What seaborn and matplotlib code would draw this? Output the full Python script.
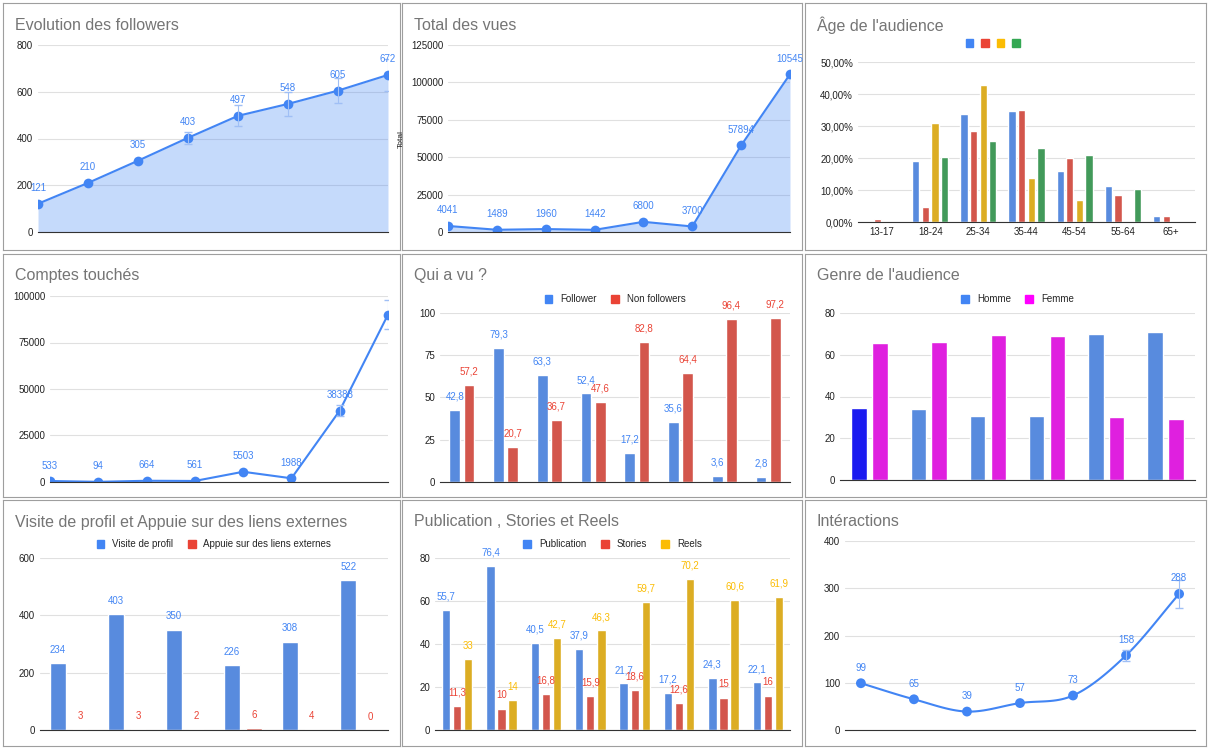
import numpy as np
import pandas as pd
import matplotlib.pyplot as plt
import seaborn as sns

# Data
followers = [121, 210, 305, 403, 497, 548, 605, 672]
vues = [4041, 1489, 1960, 1442, 6800, 3700, 57894, 105454]
vues_labels = ['4041', '1489', '1960', '1442', '6800', '3700', '57894', '10545']
comptes = [533, 94, 664, 561, 5503, 1988, 38388, 90000]
comptes_labels = ['533', '94', '664', '561', '5503', '1988', '38388', '']
interactions = [99, 65, 39, 57, 73, 158, 288]

age_groups = ['13-17', '18-24', '25-34', '35-44', '45-54', '55-64', '65+']
age_blue = [0, 19.0, 33.8, 34.8, 16.0, 11.2, 1.8]
age_red = [0.8, 4.8, 28.5, 35.0, 20.0, 8.5, 2.0]
age_yellow = [0, 30.8, 42.7, 13.7, 6.8, 0, 0]
age_green = [0, 20.2, 25.3, 23.0, 20.8, 10.3, 0]

vu_follower = [42.8, 79.3, 63.3, 52.4, 17.2, 35.6, 3.6, 2.8]
vu_non = [57.2, 20.7, 36.7, 47.6, 82.8, 64.4, 96.4, 97.2]

homme = [34.5, 34, 30.5, 30.8, 70, 71]
femme = [65.5, 66, 69.5, 69.2, 30, 29]

visites = [234, 403, 350, 226, 308, 522]
liens = [3, 3, 2, 6, 4, 0]

publication = [55.7, 76.4, 40.5, 37.9, 21.7, 17.2, 24.3, 22.1]
stories = [11.3, 10, 16.8, 15.9, 18.6, 12.6, 15, 16]
reels = [33, 14, 42.7, 46.3, 59.7, 70.2, 60.6, 61.9]

BLUE = '#4285f4'
RED = '#ea4335'
YELLOW = '#fbbc04'
GREEN = '#34a853'
MAGENTA = '#ff00ff'

sns.set_style('white')
plt.rcParams['font.family'] = ['Arial', 'Liberation Sans', 'DejaVu Sans']

fig = plt.figure(figsize=(12.08, 7.49), dpi=100)
W, H = 1208, 749


def fmt(v):
    s = ('%g' % v).replace('.', ',')
    return s


def panel(x0, y0, x1, y1, title):
    # border box
    bg = fig.add_axes([x0 / W, 1 - y1 / H, (x1 - x0) / W, (y1 - y0) / H])
    bg.set_xticks([]); bg.set_yticks([])
    for s in bg.spines.values():
        s.set_color('#9e9e9e')
    bg.text(12 / (x1 - x0), 1 - 22 / (y1 - y0), title, transform=bg.transAxes,
            fontsize=11.5, color='#757575', va='center')
    return bg


def inner(x0, y0, x1, y1):
    ax = fig.add_axes([x0 / W, 1 - y1 / H, (x1 - x0) / W, (y1 - y0) / H])
    ax.set_facecolor('none')
    sns.despine(ax=ax, left=True, top=True, right=True)
    ax.spines['bottom'].set_color('#333333')
    ax.grid(axis='y', color='#e0e0e0', lw=0.8)
    ax.set_axisbelow(True)
    ax.tick_params(axis='both', labelsize=7, length=0, colors='#222222')
    return ax


def line_chart(ax, vals, ymax, step, labels=None, fill=True, errs=None):
    x = np.arange(len(vals))
    df = pd.DataFrame({'x': x, 'y': vals})
    sns.lineplot(data=df, x='x', y='y', ax=ax, color=BLUE, lw=1.5, marker='o',
                 markersize=7, markeredgewidth=0)
    if fill:
        ax.fill_between(x, vals, color=BLUE, alpha=0.3, lw=0)
    if errs:
        for i, e in errs.items():
            ax.errorbar(i, vals[i], yerr=e, color='#a0bff5', capsize=3, lw=0.8)
    labels = labels or [str(v) for v in vals]
    for i, (v, l) in enumerate(zip(vals, labels)):
        ax.annotate(l, (i, v), xytext=(0, 9), textcoords='offset points',
                    ha='center', fontsize=7, color=BLUE)
    ax.set_xlim(0, len(vals) - 1)
    ax.set_ylim(0, ymax)
    ax.set_yticks(np.arange(0, ymax + 1, step))
    ax.set_xticks([])
    ax.set_xlabel(''); ax.set_ylabel('')


def bar_chart(ax, cats, series, names, colors, ymax, step, labels=True, legend=True,
              lbl_colors=None, width=0.75):
    rows = []
    for n, vals in zip(names, series):
        for c, v in zip(cats, vals):
            rows.append({'cat': c, 'serie': n, 'val': v})
    df = pd.DataFrame(rows)
    sns.barplot(data=df, x='cat', y='val', hue='serie', palette=colors, ax=ax,
                width=width, gap=0.25, legend=False)
    if labels:
        for cont, col in zip(ax.containers, lbl_colors or colors):
            ax.bar_label(cont, labels=[fmt(v) for v in cont.datavalues], padding=6,
                         fontsize=7, color=col)
    ax.set_ylim(0, ymax)
    ax.set_yticks(np.arange(0, ymax + 1, step))
    ax.set_xlabel(''); ax.set_ylabel('')
    if legend:
        handles = [plt.Rectangle((0, 0), 1, 1, color=c) for c in colors]
        ax.legend(handles, names, loc='lower center', bbox_to_anchor=(0.5, 1.0),
                  ncol=len(names), frameon=False, fontsize=7, handlelength=0.8,
                  handleheight=0.8, columnspacing=1.5)


# Row 1
panel(3, 3, 400, 250, 'Evolution des followers')
ax = inner(38, 45, 388, 232)
line_chart(ax, followers, 800, 200, errs={3: 25, 4: 45, 5: 50, 6: 55, 7: 70})

panel(402, 3, 802, 250, 'Total des vues')
ax = inner(448, 45, 790, 232)
line_chart(ax, vues, 125000, 25000, labels=vues_labels)
ax.set_ylabel('Total', fontsize=6)

panel(805, 3, 1206, 250, "Âge de l'audience")
ax = inner(858, 62, 1195, 222)
bar_chart(ax, age_groups, [age_blue, age_red, age_yellow, age_green],
          ['a', 'b', 'c', 'd'], [BLUE, RED, YELLOW, GREEN], 50, 10,
          labels=False, legend=False, width=0.8)
ax.set_yticks(np.arange(0, 51, 10))
ax.set_yticklabels(['%d,00%%' % v for v in range(0, 51, 10)])
handles = [plt.Rectangle((0, 0), 1, 1, color=c) for c in [BLUE, RED, YELLOW, GREEN]]
ax.legend(handles, ['', '', '', ''], loc='lower center', bbox_to_anchor=(0.4, 1.03),
          ncol=4, frameon=False, fontsize=7, handlelength=0.8, handleheight=0.8,
          columnspacing=0.8, handletextpad=0)

# Row 2
panel(3, 254, 400, 497, 'Comptes touchés')
ax = inner(50, 296, 388, 482)
line_chart(ax, comptes, 100000, 25000, labels=comptes_labels, fill=False,
           errs={6: 3000, 7: 8000})

panel(402, 254, 802, 497, 'Qui a vu ?')
ax = inner(440, 313, 790, 482)
bar_chart(ax, list(range(8)), [vu_follower, vu_non], ['Follower', 'Non followers'],
          [BLUE, RED], 100, 25, width=0.65)
ax.set_xticks([])

panel(805, 254, 1206, 497, "Genre de l'audience")
ax = inner(840, 313, 1195, 480)
bar_chart(ax, list(range(6)), [homme, femme], ['Homme', 'Femme'], [BLUE, MAGENTA],
          80, 20, labels=False, width=0.7)
ax.containers[0][0].set_facecolor('#1a1af0')
ax.set_xticks([])

# Row 3
panel(3, 500, 400, 746, 'Visite de profil et Appuie sur des liens externes')
ax = inner(40, 558, 388, 730)
bar_chart(ax, list(range(6)), [visites, liens], ['Visite de profil', 'Appuie sur des liens externes'],
          [BLUE, RED], 600, 200, width=0.75)
ax.set_ylim(0, 600)
ax.set_xticks([])

panel(402, 500, 802, 746, 'Publication , Stories et Reels')
ax = inner(435, 558, 790, 730)
bar_chart(ax, list(range(8)), [publication, stories, reels], ['Publication', 'Stories', 'Reels'],
          [BLUE, RED, YELLOW], 80, 20, width=0.75)
ax.set_xticks([])

panel(805, 500, 1206, 746, 'Intéractions')
ax = inner(845, 541, 1195, 730)
x = np.arange(len(interactions))
# smooth curve (Catmull-Rom style through points)
pts = np.array(interactions, dtype=float)
xs, ys = [], []
p = np.concatenate([[2 * pts[0] - pts[1]], pts, [2 * pts[-1] - pts[-2]]])
for i in range(len(pts) - 1):
    t = np.linspace(0, 1, 20)
    p0, p1, p2, p3 = p[i], p[i + 1], p[i + 2], p[i + 3]
    y = 0.5 * ((2 * p1) + (-p0 + p2) * t + (2 * p0 - 5 * p1 + 4 * p2 - p3) * t ** 2
               + (-p0 + 3 * p1 - 3 * p2 + p3) * t ** 3)
    xs.extend(i + t); ys.extend(y)
sns.lineplot(x=xs, y=ys, ax=ax, color=BLUE, lw=1.5, sort=False)
sns.scatterplot(x=x, y=interactions, ax=ax, color=BLUE, s=50, edgecolor='none')
ax.errorbar(5, 158, yerr=12, color='#a0bff5', capsize=3, lw=0.8)
ax.errorbar(6, 288, yerr=30, color='#a0bff5', capsize=3, lw=0.8)
for i, v in enumerate(interactions):
    ax.annotate(str(v), (i, v), xytext=(0, 9), textcoords='offset points',
                ha='center', fontsize=7, color=BLUE)
ax.set_xlim(-0.3, 6.3)
ax.set_ylim(0, 400)
ax.set_yticks([0, 100, 200, 300, 400])
ax.set_xticks([])

fig.savefig('out.png', dpi=100)
